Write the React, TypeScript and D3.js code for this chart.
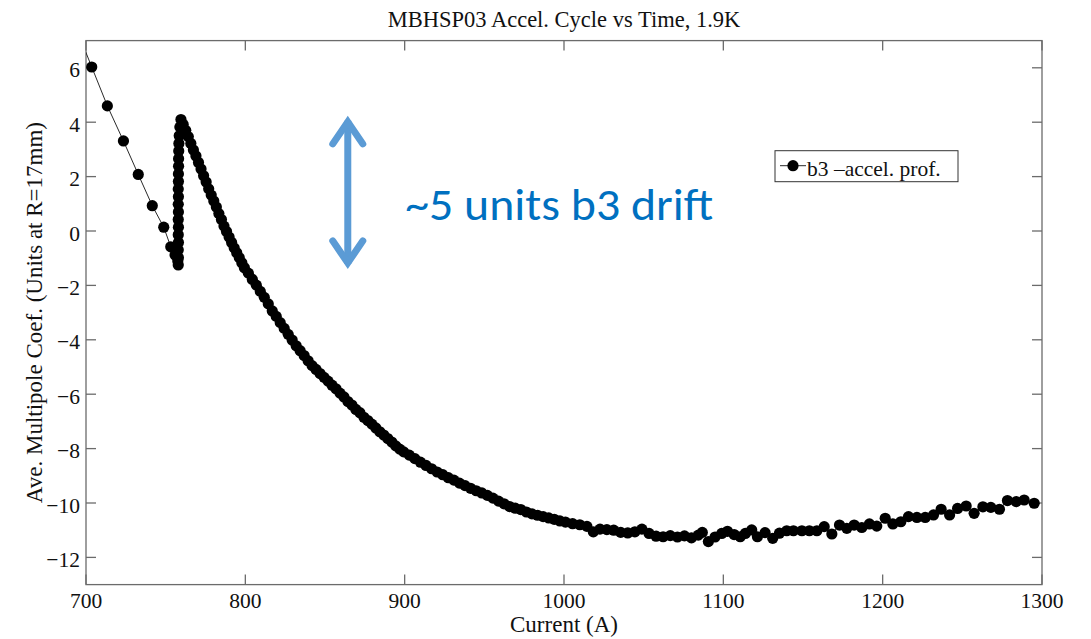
import React from "react";
import * as d3 from "d3";

// Chart frame
const WIDTH = 1091;
const HEIGHT = 639;
const PLOT = { left: 86, right: 1042, top: 40.6, bottom: 584.6 };

// Axis settings and tick labels
const X_DOMAIN = [700, 1300];
const Y_DOMAIN = [-13, 7];
const X_TICKS = [700, 800, 900, 1000, 1100, 1200, 1300];
const Y_TICKS = [-12, -10, -8, -6, -4, -2, 0, 2, 4, 6];

const TITLE = "MBHSP03 Accel. Cycle vs Time, 1.9K";
const X_LABEL = "Current (A)";
const Y_LABEL = "Ave. Multipole Coef. (Units at R=17mm)";
const LEGEND_LABEL = "b3 \u2013accel. prof.";
const NOTE_TEXT = "~5 units b3 drift";

// b3 drift annotation, in data units (current, b3)
const NOTE_ARROW_X = 864.3;
const NOTE_ARROW_TOP = 4.27;
const NOTE_ARROW_BOTTOM = -1.43;
const NOTE_TEXT_X = 900.3;
const NOTE_TEXT_Y = 0.4;

// Ramp up to injection current (first point lies just outside the axes)
const rampCurrent = [694.2, 703.6, 713.4, 723.5, 732.8, 741.6, 748.8, 753.2, 755.9, 757.6];
const rampB3 = [7.4, 6.03, 4.6, 3.31, 2.08, 0.93, 0.14, -0.58, -0.88, -1.1];

// Snap-back at the start of the acceleration ramp
const snapCurrent = [
  757.9, 758.0, 757.9, 758.0, 757.9, 758.0, 757.9, 758.0, 757.9, 758.0,
  757.9, 758.0, 758.0, 758.1, 758.1, 758.2, 758.3, 758.5, 758.9, 759.6,
];
const snapB3 = [
  -1.25, -0.98, -0.7, -0.42, -0.14, 0.14, 0.42, 0.7, 0.98, 1.26,
  1.54, 1.82, 2.1, 2.38, 2.66, 2.94, 3.22, 3.5, 3.82, 4.1,
];

// Decay of b3 along the acceleration ramp
const decayCurrent = [
  761.0, 762.6, 764.2, 765.8, 767.4, 769.0, 770.6, 772.2, 773.8, 775.4,
  777.0, 778.6, 780.2, 781.8, 783.4, 785.0, 786.6, 788.2, 789.8, 791.4,
  793.0, 794.6, 796.2, 797.8, 799.4,
  801.9, 804.4, 806.9, 809.4, 811.9, 814.4, 816.9, 819.4, 821.9, 824.4,
  826.9, 829.4, 831.9, 834.4, 836.9, 839.4, 841.9, 844.4, 846.9, 849.4,
  851.9, 854.4, 856.9, 859.4, 861.9, 864.4, 866.9, 869.4, 871.9, 874.4,
  876.9, 879.4, 881.9, 884.4, 886.9, 889.4, 891.9, 894.4, 896.9, 899.4,
  902.9, 906.4, 909.9, 913.4, 916.9, 920.4, 923.9, 927.4, 930.9, 934.4,
  937.9, 941.4, 944.9, 948.4, 951.9, 955.4, 958.9, 962.4, 965.9, 969.4,
  972.9, 976.4, 979.9, 983.4, 986.9, 990.4, 993.9, 997.4, 1000.9,
  1005.4, 1009.9, 1014.4, 1018.4, 1022.6, 1026.9, 1031.2, 1035.6, 1040.0, 1044.5,
  1048.9, 1053.4, 1057.8, 1062.2, 1066.7, 1071.2, 1075.6, 1080.0, 1084.3, 1086.8,
  1090.6, 1094.8, 1099.0, 1102.6, 1106.8, 1110.6, 1113.8, 1117.8, 1121.4, 1126.2,
  1131.0, 1135.2, 1139.8, 1144.0, 1149.3, 1154.0, 1158.7, 1163.3, 1168.1, 1172.9,
  1177.5, 1182.1, 1186.9, 1191.7, 1196.3, 1201.6, 1206.4, 1211.4, 1216.2, 1221.5,
  1226.7, 1231.9, 1236.7, 1242.0, 1247.0, 1252.4, 1257.4, 1262.9, 1267.9, 1273.3,
  1278.3, 1283.8, 1288.8, 1295.1,
];
const decayB3 = [
  3.92, 3.7, 3.47, 3.22, 2.98, 2.76, 2.52, 2.28, 2.03, 1.8,
  1.55, 1.32, 1.1, 0.88, 0.64, 0.42, 0.18, -0.02, -0.22, -0.42,
  -0.62, -0.8, -0.98, -1.17, -1.35,
  -1.55, -1.78, -1.99, -2.22, -2.44, -2.68, -2.94, -3.14, -3.37, -3.58,
  -3.8, -4.01, -4.22, -4.4, -4.58, -4.77, -4.95, -5.09, -5.24, -5.38,
  -5.52, -5.67, -5.8, -5.96, -6.1, -6.27, -6.4, -6.56, -6.68, -6.85,
  -6.97, -7.1, -7.24, -7.38, -7.5, -7.63, -7.76, -7.9, -8.02, -8.12,
  -8.24, -8.37, -8.5, -8.62, -8.74, -8.86, -8.96, -9.07, -9.16, -9.27,
  -9.36, -9.46, -9.55, -9.63, -9.72, -9.82, -9.93, -10.03, -10.13, -10.19,
  -10.24, -10.33, -10.4, -10.45, -10.5, -10.55, -10.6, -10.66, -10.7,
  -10.76, -10.8, -10.86, -11.06, -10.96, -10.98, -11.0, -11.08, -11.1, -11.06,
  -10.96, -11.12, -11.22, -11.24, -11.2, -11.25, -11.21, -11.28, -11.18, -11.08,
  -11.42, -11.25, -11.12, -11.04, -11.16, -11.24, -11.12, -10.99, -11.24, -11.09,
  -11.3, -11.11, -11.02, -11.02, -11.02, -11.02, -11.02, -10.87, -11.14, -10.81,
  -10.93, -10.81, -10.9, -10.77, -10.85, -10.56, -10.77, -10.69, -10.5, -10.53,
  -10.53, -10.44, -10.23, -10.44, -10.2, -10.11, -10.38, -10.14, -10.16, -10.23,
  -9.91, -9.95, -9.89, -10.01,
];

const SERIF = "'Liberation Serif', 'Times New Roman', Times, serif";
const AXIS_GRAY = "#6b6b6b";
const MARKER_R = 5.6;
const TICK_LEN = 10;

const fmt = (v: number) => (v < 0 ? "\u2212" + Math.abs(v) : String(v));

export default function App() {
  const x = d3.scaleLinear().domain(X_DOMAIN).range([PLOT.left, PLOT.right]);
  const y = d3.scaleLinear().domain(Y_DOMAIN).range([PLOT.bottom, PLOT.top]);

  const current = [...rampCurrent, ...snapCurrent, ...decayCurrent];
  const b3 = [...rampB3, ...snapB3, ...decayB3];
  const points = current.map((c, i) => [c, b3[i]] as [number, number]);
  const visible = points.filter(
    ([c, v]) => c >= X_DOMAIN[0] && c <= X_DOMAIN[1] && v >= Y_DOMAIN[0] && v <= Y_DOMAIN[1]
  );

  const linePath =
    d3
      .line<[number, number]>()
      .x((d) => x(d[0]))
      .y((d) => y(d[1]))(points) ?? "";

  // Double-headed annotation arrow
  const ax = x(NOTE_ARROW_X);
  const aTop = y(NOTE_ARROW_TOP);
  const aBot = y(NOTE_ARROW_BOTTOM);
  const barbW = 15;
  const barbH = 29;

  const cx = (PLOT.left + PLOT.right) / 2;
  const cy = (PLOT.top + PLOT.bottom) / 2;

  return (
    <div>
      <style>{`body{margin:0;background:#fff;}`}</style>
      <svg width={WIDTH} height={HEIGHT} style={{ display: "block" }}>
        <rect width={WIDTH} height={HEIGHT} fill="#fff" />
        <defs>
          <clipPath id="plot-clip">
            <rect
              x={PLOT.left}
              y={PLOT.top}
              width={PLOT.right - PLOT.left}
              height={PLOT.bottom - PLOT.top}
            />
          </clipPath>
        </defs>

        {/* axes box */}
        <rect
          x={PLOT.left}
          y={PLOT.top}
          width={PLOT.right - PLOT.left}
          height={PLOT.bottom - PLOT.top}
          fill="none"
          stroke={AXIS_GRAY}
          strokeWidth={1.3}
        />

        {/* x ticks (bottom and top, pointing inward) */}
        {X_TICKS.map((t) => (
          <g key={"x" + t}>
            <line x1={x(t)} x2={x(t)} y1={PLOT.bottom} y2={PLOT.bottom - TICK_LEN} stroke={AXIS_GRAY} strokeWidth={1.3} />
            <line x1={x(t)} x2={x(t)} y1={PLOT.top} y2={PLOT.top + TICK_LEN} stroke={AXIS_GRAY} strokeWidth={1.3} />
            <text x={x(t)} y={608} textAnchor="middle" fontFamily={SERIF} fontSize={21.5} fill="#111">
              {fmt(t)}
            </text>
          </g>
        ))}

        {/* y ticks (left and right, pointing inward) */}
        {Y_TICKS.map((t) => (
          <g key={"y" + t}>
            <line x1={PLOT.left} x2={PLOT.left + TICK_LEN} y1={y(t)} y2={y(t)} stroke={AXIS_GRAY} strokeWidth={1.3} />
            <line x1={PLOT.right} x2={PLOT.right - TICK_LEN} y1={y(t)} y2={y(t)} stroke={AXIS_GRAY} strokeWidth={1.3} />
            <text x={80} y={y(t) + 9.5} textAnchor="end" fontFamily={SERIF} fontSize={21.5} fill="#111">
              {fmt(t)}
            </text>
          </g>
        ))}

        {/* data: thin connecting line plus filled markers */}
        <g clipPath="url(#plot-clip)">
          <path d={linePath} fill="none" stroke="#111" strokeWidth={0.9} />
          {visible.map(([c, v], i) => (
            <circle key={i} cx={x(c)} cy={y(v)} r={MARKER_R} fill="#000" />
          ))}
        </g>

        {/* title and axis labels */}
        <text x={cx} y={26.5} textAnchor="middle" fontFamily={SERIF} fontSize={22.5} fill="#111">
          {TITLE}
        </text>
        <text x={cx} y={632} textAnchor="middle" fontFamily={SERIF} fontSize={23} fill="#111">
          {X_LABEL}
        </text>
        <text
          transform={`translate(41.5,${cy}) rotate(-90)`}
          textAnchor="middle"
          fontFamily={SERIF}
          fontSize={23}
          fill="#111"
        >
          {Y_LABEL}
        </text>

        {/* legend */}
        <g>
          <rect x={775} y={150.7} width={183} height={31} fill="#fff" stroke="#333" strokeWidth={1} />
          <line x1={780} x2={806} y1={165.7} y2={165.7} stroke="#111" strokeWidth={0.9} />
          <circle cx={793} cy={165.7} r={MARKER_R} fill="#000" />
          <text x={807} y={176} fontFamily={SERIF} fontSize={21.5} fill="#111">
            {LEGEND_LABEL}
          </text>
        </g>

        {/* drift annotation */}
        <g stroke="#5B9BD5" strokeWidth={7} fill="none" strokeLinecap="round" strokeLinejoin="miter">
          <line x1={ax} x2={ax} y1={aTop + 6} y2={aBot - 6} strokeLinecap="butt" />
          <polyline points={`${ax - barbW},${aTop + barbH} ${ax},${aTop + 7} ${ax + barbW},${aTop + barbH}`} />
          <polyline points={`${ax - barbW},${aBot - barbH} ${ax},${aBot - 7} ${ax + barbW},${aBot - barbH}`} />
        </g>
        <text
          x={x(NOTE_TEXT_X)}
          y={y(NOTE_TEXT_Y)}
          fontFamily="Carlito, Calibri, Lato, 'Open Sans', sans-serif"
          fontSize={45}
          fill="#0070C0"
          textLength={308}
          lengthAdjust="spacingAndGlyphs"
        >
          {NOTE_TEXT}
        </text>
      </svg>
    </div>
  );
}
